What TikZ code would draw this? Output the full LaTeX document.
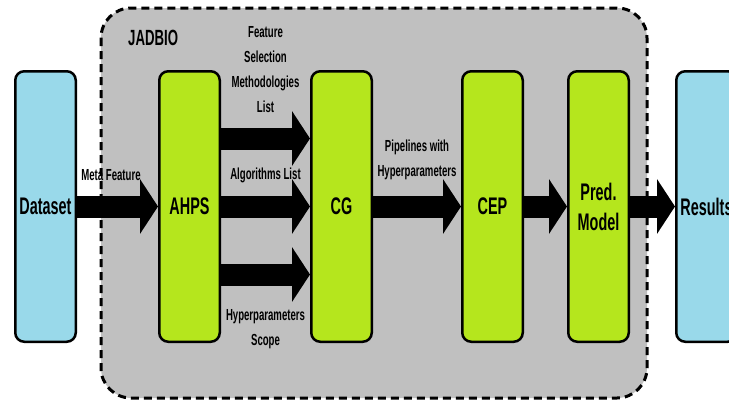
\documentclass[tikz,border=0pt]{standalone}
\usepackage{fontspec}
\setmainfont[FakeStretch=0.6]{Liberation Sans}
\usetikzlibrary{arrows.meta,positioning}
\definecolor{limegreen}{RGB}{181,230,29}
\definecolor{paleblue}{RGB}{153,217,234}
\definecolor{panelgray}{RGB}{192,192,192}
\tikzset{
  iobox/.style = {draw=black, fill=paleblue, line width=2.5pt, rounded corners=9pt, minimum width=60.5pt, minimum height=270.5pt, align=center, font=\fontsize{24}{30}\selectfont\bfseries},
  stepbox/.style = {iobox, fill=limegreen},
  panel/.style = {draw=black, fill=panelgray, line width=3pt, dash pattern=on 8pt off 5pt, rounded corners=30pt},
  lbl/.style = {align=center, inner sep=1pt, font=\fontsize{16}{25}\selectfont\bfseries},
  fat/.style = {line width=22pt, -{Triangle[length=18pt 0 0, width=54pt 0 0]}}
}
\begin{document}
\begin{tikzpicture}[x=1pt, y=-1pt]
  \clip (0,0) rectangle (729,402);
  \useasboundingbox (0,0) rectangle (729,402);
  % JADBIO panel
  \draw[panel] (101,8) rectangle (647,398);
  \node[anchor=base west, inner sep=0pt, font=\fontsize{22}{26}\selectfont\bfseries] (jadbio) at (128,45) {JADBIO};

  \node[iobox] (dataset) at (45.5,206.5) {Dataset};
  \node[stepbox, right=81pt of dataset] (ahps) {AHPS};
  \node[stepbox, right=89pt of ahps] (cg) {CG};
  \node[stepbox, right=88pt of cg] (cep) {CEP};
  \node[stepbox, right=43pt of cep] (pred) {Pred.\\Model};
  \node[iobox, right=45pt of pred] (results) {Results};

  \draw[fat] (dataset) -- node[lbl, pos=0.42, above=14pt] {Meta Feature} (ahps);
  \draw[fat] ([yshift=68pt]ahps.east) -- node[lbl, above=14pt] {Feature\\Selection\\Methodologies\\List} ([yshift=68pt]cg.west);
  \draw[fat] (ahps) -- node[lbl, above=12pt] {Algorithms List} (cg);
  \draw[fat] ([yshift=-68pt]ahps.east) -- node[lbl, below=23pt] {Hyperparameters\\Scope} ([yshift=-68pt]cg.west);
  \draw[fat] (cg) -- node[lbl, above=15pt] {Pipelines with\\Hyperparameters} (cep);
  \draw[fat] (cep) -- (pred);
  \draw[fat] (pred) -- (results);
\end{tikzpicture}
\end{document}
